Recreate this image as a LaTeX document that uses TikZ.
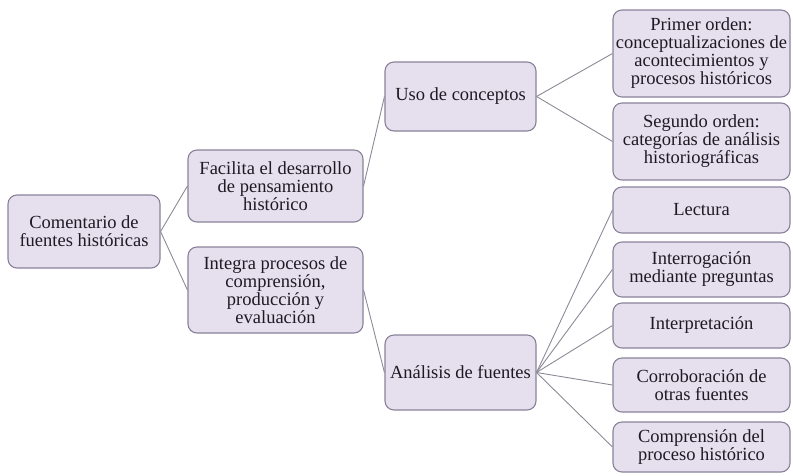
\documentclass[tikz,border=0pt]{standalone}
\usepackage{fontspec}
\setmainfont{Liberation Serif}
\definecolor{boxfill}{HTML}{E6E0EE}
\definecolor{boxedge}{HTML}{8A8199}
\definecolor{linecol}{HTML}{8C8A96}
\definecolor{txtcol}{HTML}{1E1A24}
\begin{document}
\begin{tikzpicture}[x=1pt,y=-1pt,
  box/.style={draw=boxedge, line width=1.1pt, fill=boxfill, rounded corners=9pt,
    align=center, inner sep=0pt, text=txtcol,
    font=\fontsize{18.5}{18}\selectfont},
  conn/.style={draw=linecol, line width=0.9pt}]
\useasboundingbox (0,0) rectangle (793,475);
\node[box, minimum width=152pt, minimum height=73pt] (c1) at (84,231.5) {Comentario de\\fuentes históricas};
\node[box, minimum width=175pt, minimum height=72pt] (f1) at (275.5,186) {Facilita el desarrollo\\de pensamiento\\histórico};
\node[box, minimum width=175pt, minimum height=86pt] (f2) at (275.5,290) {Integra procesos de\\comprensión,\\producción y\\evaluación};
\node[box, minimum width=151pt, minimum height=69pt] (u1) at (460.5,96.5) {Uso de conceptos};
\node[box, minimum width=151pt, minimum height=75pt] (a1) at (460.5,372.5) {Análisis de fuentes};
\node[box, minimum width=177pt, minimum height=87pt] (r1) at (701.5,53.5) {Primer orden:\\conceptualizaciones de\\acontecimientos y\\procesos históricos};
\node[box, minimum width=177pt, minimum height=77pt] (r2) at (701.5,141.5) {Segundo orden:\\categorías de análisis\\historiográficas};
\node[box, minimum width=177pt, minimum height=46pt] (r3) at (701.5,210) {Lectura};
\node[box, minimum width=177pt, minimum height=55pt] (r4) at (701.5,269.5) {Interrogación\\mediante preguntas};
\node[box, minimum width=177pt, minimum height=45pt] (r5) at (701.5,325.5) {Interpretación};
\node[box, minimum width=177pt, minimum height=54pt] (r6) at (701.5,385) {Corroboración de\\otras fuentes};
\node[box, minimum width=177pt, minimum height=50pt] (r7) at (701.5,447) {Comprensión del\\proceso histórico};
\draw[conn] (c1.east) -- (f1.west);
\draw[conn] (c1.east) -- (f2.west);
\draw[conn] (f1.east) -- (u1.west);
\draw[conn] (f2.east) -- (a1.west);
\draw[conn] (u1.east) -- (r1.west);
\draw[conn] (u1.east) -- (r2.west);
\foreach \r in {r3,r4,r5,r6,r7} \draw[conn] (a1.east) -- (\r.west);
\end{tikzpicture}
\end{document}
